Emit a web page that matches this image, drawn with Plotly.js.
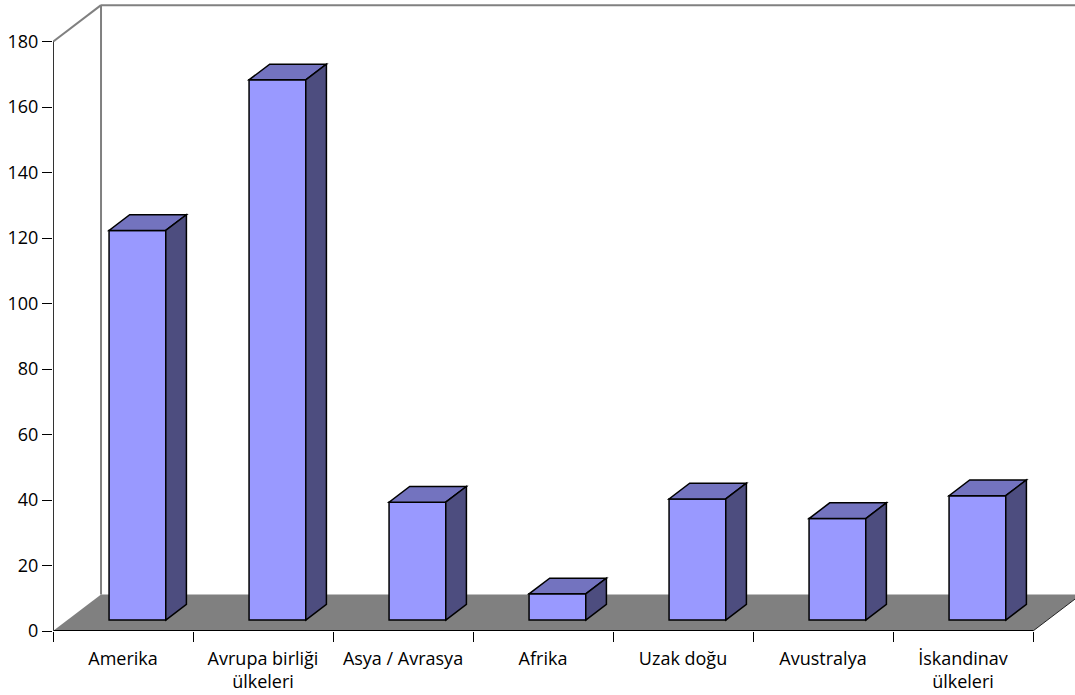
<!DOCTYPE html>
<html>
<head>
<meta charset="utf-8">
<script src="https://cdn.plot.ly/plotly-3.0.1.min.js"></script>
<style>html,body{margin:0;padding:0;background:#fff;}#chart{width:1075px;height:695px;}</style>
</head>
<body>
<div id="chart"></div>
<script>
// ---- data ----
const categories = ['Amerika', 'Avrupa birliği<br>ülkeleri', 'Asya / Avrasya', 'Afrika', 'Uzak doğu', 'Avustralya', 'İskandinav<br>ülkeleri'];
const values = [119, 165, 36, 8, 37, 31, 38];
const yTickValues = [0, 20, 40, 60, 80, 100, 120, 140, 160, 180];

// ---- 3D projection geometry (axis units) ----
const DX = 0.343;   // depth shift along category axis
const DY = 11.15;   // depth shift along value axis
const F0 = 0.30, F1 = 0.73; // bar front / back depth fractions
const BAR_W = 0.405;
const Y_MAX = 180;
const N = categories.length;

const FRONT = '#9999FF', TOP = '#7373BF', SIDE = '#4D4D7F', FLOOR = '#808080', WALL = '#808080';

const shapes = [];
const P = (x, y) => x.toFixed(4) + ',' + y.toFixed(4);

// floor
shapes.push({type: 'path', layer: 'below', xref: 'x', yref: 'y',
  path: 'M' + P(-0.5, 0) + 'L' + P(N - 0.5, 0) + 'L' + P(N - 0.5 + DX, DY) + 'L' + P(-0.5 + DX, DY) + 'Z',
  fillcolor: FLOOR, line: {width: 0}});
// walls
shapes.push({type: 'line', layer: 'below', xref: 'x', yref: 'y', x0: -0.5, y0: Y_MAX, x1: -0.5 + DX, y1: Y_MAX + DY, line: {color: WALL, width: 2}});
shapes.push({type: 'line', layer: 'below', xref: 'x', yref: 'y', x0: -0.5 + DX, y0: DY, x1: -0.5 + DX, y1: Y_MAX + DY, line: {color: WALL, width: 2}});
shapes.push({type: 'line', layer: 'below', xref: 'x', yref: 'y', x0: -0.5 + DX, y0: Y_MAX + DY, x1: N - 0.5 + DX, y1: Y_MAX + DY, line: {color: WALL, width: 2}});
// axes lines
shapes.push({type: 'line', layer: 'above', xref: 'x', yref: 'y', x0: -0.5, y0: 0, x1: N - 0.5, y1: 0, line: {color: '#000', width: 2}});
shapes.push({type: 'line', layer: 'above', xref: 'x', yref: 'y', x0: N - 0.5, y0: 0, x1: N - 0.5 + DX, y1: DY, line: {color: '#222', width: 1}});
shapes.push({type: 'line', layer: 'above', xref: 'x', yref: 'y', x0: -0.5, y0: 0, x1: -0.5, y1: Y_MAX, line: {color: '#333', width: 2}});

// bar tops and sides
values.forEach((v, i) => {
  const xl = i - BAR_W / 2, xr = i + BAR_W / 2;
  shapes.push({type: 'path', layer: 'above', xref: 'x', yref: 'y',
    path: 'M' + P(xl + F0 * DX, F0 * DY + v) + 'L' + P(xr + F0 * DX, F0 * DY + v) +
          'L' + P(xr + F1 * DX, F1 * DY + v) + 'L' + P(xl + F1 * DX, F1 * DY + v) + 'Z',
    fillcolor: TOP, line: {color: '#000', width: 1.5}});
  shapes.push({type: 'path', layer: 'above', xref: 'x', yref: 'y',
    path: 'M' + P(xr + F0 * DX, F0 * DY) + 'L' + P(xr + F1 * DX, F1 * DY) +
          'L' + P(xr + F1 * DX, F1 * DY + v) + 'L' + P(xr + F0 * DX, F0 * DY + v) + 'Z',
    fillcolor: SIDE, line: {color: '#000', width: 1.5}});
});

const trace = {
  type: 'bar',
  x: categories,
  y: values,
  base: values.map(() => F0 * DY),
  width: BAR_W,
  offset: -BAR_W / 2 + F0 * DX,
  marker: {color: FRONT, line: {color: '#000', width: 1.5}},
  hoverinfo: 'skip'
};

const font = {family: '"Open Sans", "DejaVu Sans", sans-serif', size: 18, color: '#000'};

const layout = {
  width: 1075, height: 695,
  margin: {l: 53, r: 0, t: 0, b: 64, pad: 0},
  paper_bgcolor: '#fff', plot_bgcolor: '#fff',
  showlegend: false,
  font: font,
  xaxis: {
    type: 'category', categoryorder: 'array', categoryarray: categories,
    range: [-0.5, 6.8], fixedrange: true,
    showline: false, showgrid: false, zeroline: false,
    tickson: 'boundaries', ticks: 'outside', ticklen: 10, tickwidth: 1, tickcolor: '#000',
    ticklabelstandoff: 15,
    tickfont: font
  },
  yaxis: {
    range: [0, 631 / 3.274], fixedrange: true,
    showline: false, showgrid: false, zeroline: false,
    tickmode: 'array', tickvals: yTickValues, ticktext: yTickValues.map(String),
    ticks: 'outside', ticklen: 10, tickwidth: 1, tickcolor: '#000',
    tickfont: font
  },
  shapes: shapes
};

Plotly.newPlot('chart', [trace], layout, {displayModeBar: false, staticPlot: true});
</script>
</body>
</html>
